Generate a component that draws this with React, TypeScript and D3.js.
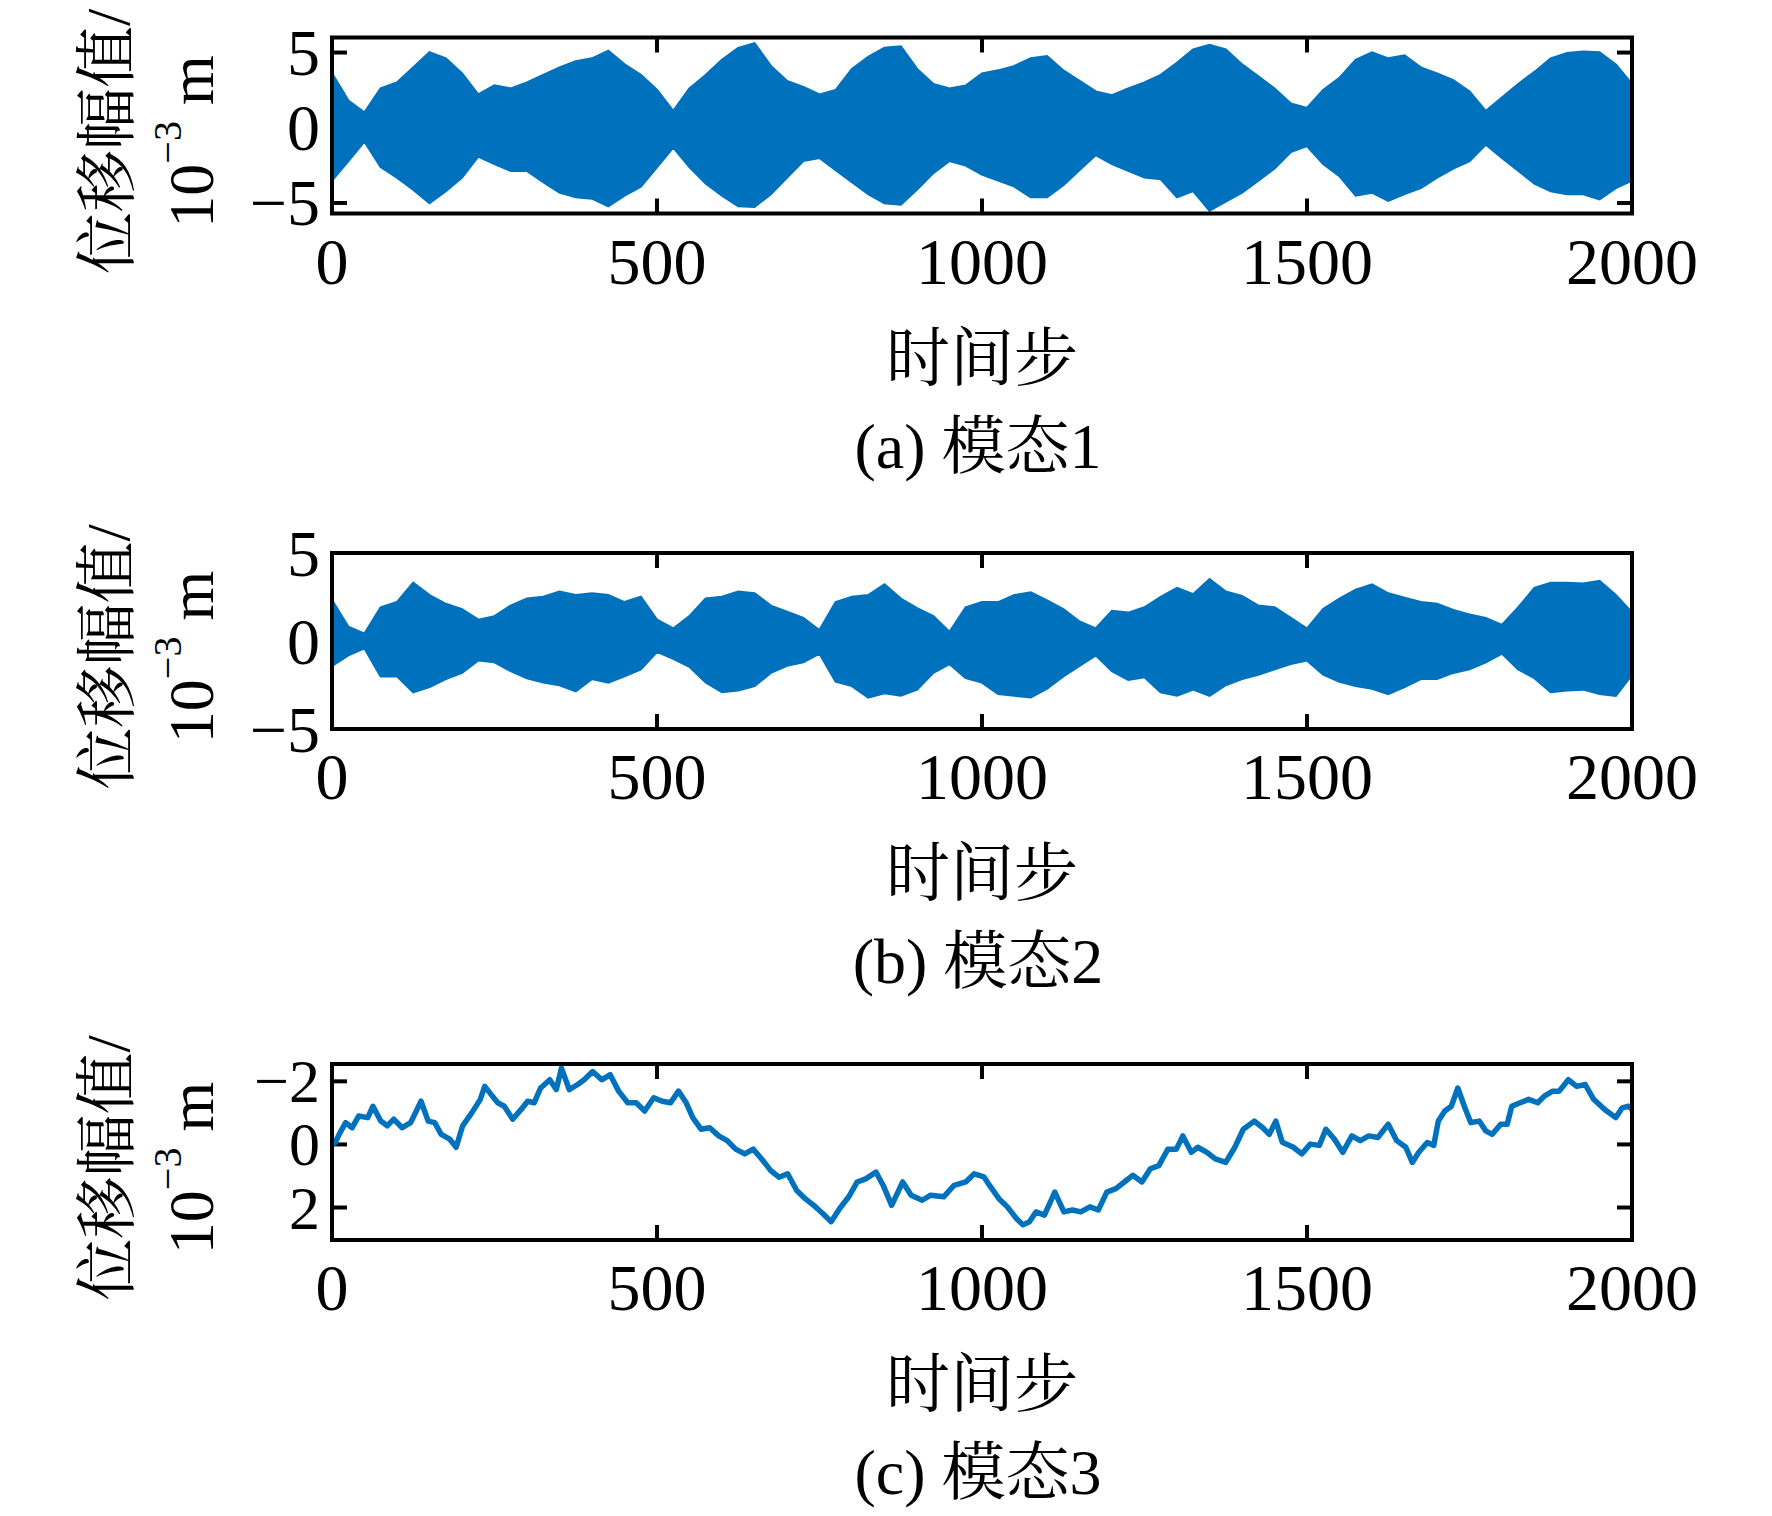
import { useEffect, useRef } from 'react';
import * as d3 from 'd3';

// time steps on the x axis
const xTicks = [0, 500, 1000, 1500, 2000];
const envelopeStep = 25; // envelope values are read every 25 steps

// mode 1: upper / lower envelope of the oscillation (10^-3 m)
const mode1Upper = [
  3.6, 1.8, 1.0, 2.6, 3.0, 4.0, 5.0, 4.6, 3.6, 2.2, 2.8, 2.6, 3.0, 3.5, 4.0, 4.4, 4.6, 5.1, 4.2, 3.5,
  2.5, 1.1, 2.6, 3.5, 4.5, 5.3, 5.6, 4.1, 3.1, 2.7, 2.2, 2.5, 3.9, 4.7, 5.3, 5.4, 3.9, 2.9, 2.6, 2.8,
  3.6, 3.8, 4.1, 4.6, 4.75, 3.8, 3.1, 2.4, 2.15, 2.6, 3.0, 3.5, 4.3, 5.2, 5.5, 5.2, 4.2, 3.4, 2.6, 1.6,
  1.3, 2.5, 3.3, 4.5, 5.0, 4.6, 4.8, 4.0, 3.6, 3.15, 2.4, 1.1, 2.0, 2.9, 3.7, 4.6, 4.95, 5.05, 5.0, 4.2,
  2.9,
];
const mode1Lower = [
  -3.5, -2.2, -0.9, -2.6, -3.3, -4.1, -5.0, -4.2, -3.3, -1.9, -2.4, -2.85, -2.85, -3.6, -4.3, -4.6, -4.7, -5.2, -4.5, -3.9,
  -2.6, -1.3, -2.6, -3.7, -4.5, -5.2, -5.25, -4.4, -3.3, -2.2, -2.0, -2.8, -3.6, -4.4, -5.0, -5.1, -4.1, -3.0, -2.2, -2.5,
  -3.1, -3.5, -3.9, -4.6, -4.6, -3.8, -2.8, -1.8, -2.4, -2.85, -3.3, -3.4, -4.6, -4.2, -5.5, -4.9, -4.3, -3.5, -2.7, -1.6,
  -1.2, -2.4, -3.2, -4.5, -4.3, -4.85, -4.4, -4.0, -3.3, -2.7, -2.2, -1.1, -2.0, -2.85, -3.7, -4.2, -4.4, -4.4, -4.75, -4.0,
  -3.5,
];

// mode 2: upper / lower envelope (10^-3 m)
const mode2Upper = [
  2.3, 0.8, 0.4, 1.9, 2.2, 3.3, 2.6, 2.1, 1.8, 1.2, 1.4, 2.0, 2.4, 2.5, 2.8, 2.6, 2.7, 2.6, 2.2, 2.5,
  1.2, 0.7, 1.4, 2.4, 2.5, 2.8, 2.7, 2.0, 1.65, 1.3, 0.6, 2.2, 2.5, 2.6, 3.2, 2.4, 1.85, 1.4, 0.5, 1.9,
  2.2, 2.2, 2.6, 2.75, 2.3, 1.8, 1.1, 0.7, 1.7, 1.6, 1.9, 2.5, 3.0, 2.65, 3.5, 2.8, 2.55, 2.0, 1.9, 1.3,
  0.7, 1.8, 2.4, 2.9, 3.2, 2.7, 2.45, 2.2, 2.1, 1.75, 1.5, 1.3, 0.9, 1.9, 3.0, 3.3, 3.3, 3.25, 3.4, 2.6,
  1.6,
];
const mode2Lower = [
  -1.4, -0.8, -0.4, -2.0, -2.0, -2.9, -2.6, -2.15, -1.8, -1.1, -1.2, -1.7, -2.1, -2.35, -2.5, -2.85, -2.15, -2.35, -2.0, -1.6,
  -0.6, -1.0, -1.45, -2.35, -2.9, -2.8, -2.55, -1.8, -1.4, -1.2, -0.7, -2.3, -2.55, -3.2, -2.95, -3.1, -2.75, -1.8, -1.3, -2.1,
  -2.35, -3.0, -3.1, -3.2, -2.7, -2.0, -1.4, -0.8, -1.7, -2.2, -2.05, -2.9, -3.1, -2.75, -3.1, -2.5, -2.15, -1.9, -1.6, -1.3,
  -1.1, -1.9, -2.3, -2.55, -2.7, -3.0, -2.6, -2.15, -2.15, -1.8, -1.6, -1.2, -0.7, -1.6, -2.1, -2.9, -2.8, -2.75, -3.0, -3.1,
  -1.9,
];

// mode 3: [time step, displacement 10^-3 m]
const mode3Points: [number, number][] = [
  [0, 0.0], [5, -0.06], [11, -0.32], [21, -0.69], [31, -0.53], [41, -0.9], [55, -0.85], [63, -1.21],
  [75, -0.74], [85, -0.59], [95, -0.8], [108, -0.53], [121, -0.69], [137, -1.37], [148, -0.74], [158, -0.69],
  [168, -0.32], [181, -0.17], [191, 0.09], [201, -0.59], [215, -1.0], [228, -1.42], [235, -1.84], [245, -1.58],
  [255, -1.32], [265, -1.21], [278, -0.8], [291, -1.11], [301, -1.37], [311, -1.32], [321, -1.79], [335, -2.05],
  [345, -1.74], [353, -2.42], [365, -1.74], [378, -1.9], [388, -2.05], [401, -2.31], [415, -2.05], [428, -2.21],
  [441, -1.69], [455, -1.32], [468, -1.32], [481, -1.06], [495, -1.48], [508, -1.37], [521, -1.32], [533, -1.69],
  [545, -1.32], [555, -0.85], [568, -0.48], [581, -0.53], [595, -0.27], [608, -0.12], [621, 0.15], [635, 0.3],
  [648, 0.15], [661, 0.46], [675, 0.83], [688, 1.04], [701, 0.93], [715, 1.46], [728, 1.72], [741, 1.93],
  [755, 2.19], [768, 2.45], [781, 2.03], [795, 1.66], [808, 1.19], [821, 1.09], [837, 0.88], [848, 1.3],
  [861, 1.93], [878, 1.19], [891, 1.61], [908, 1.77], [921, 1.61], [941, 1.66], [957, 1.3], [975, 1.19],
  [988, 0.93], [1003, 1.03], [1013, 1.34], [1026, 1.72], [1039, 1.98], [1053, 2.35], [1063, 2.55], [1073, 2.45],
  [1083, 2.14], [1096, 2.24], [1112, 1.51], [1126, 2.14], [1139, 2.08], [1152, 2.14], [1166, 1.98], [1179, 2.08],
  [1192, 1.51], [1206, 1.4], [1219, 1.19], [1232, 0.98], [1246, 1.19], [1259, 0.77], [1272, 0.67], [1286, 0.15],
  [1299, 0.15], [1309, -0.27], [1322, 0.25], [1332, 0.09], [1346, 0.25], [1359, 0.46], [1375, 0.57], [1389, 0.09],
  [1402, -0.48], [1419, -0.74], [1432, -0.53], [1442, -0.32], [1452, -0.74], [1462, -0.07], [1479, 0.09], [1492, 0.3],
  [1505, -0.01], [1519, 0.03], [1529, -0.48], [1542, -0.17], [1555, 0.25], [1569, -0.27], [1582, -0.12], [1595, -0.27],
  [1609, -0.22], [1625, -0.64], [1638, -0.12], [1652, 0.09], [1662, 0.57], [1672, 0.25], [1685, -0.06], [1695, 0.03],
  [1702, -0.74], [1712, -1.06], [1722, -1.21], [1732, -1.79], [1742, -1.21], [1752, -0.69], [1765, -0.74], [1775, -0.43],
  [1785, -0.32], [1798, -0.64], [1808, -0.64], [1815, -1.21], [1828, -1.32], [1841, -1.43], [1855, -1.32], [1865, -1.53],
  [1878, -1.69], [1888, -1.69], [1902, -2.05], [1915, -1.84], [1928, -1.9], [1941, -1.43], [1958, -1.11], [1975, -0.85],
  [1985, -1.16], [1995, -1.21], [2000, -1.1],
];

const yTicks1 = [-5, 0, 5];
const yTicks2 = [-5, 0, 5];
const yTicks3 = [-2, 0, 2];
const captions = ['(a) 模态1', '(b) 模态2', '(c) 模态3'];
const xLabel = '时间步';
const yLabelTop = '位移幅值/';

const LINE_COLOR = '#0072BD';
const NUM_FONT = '"Liberation Serif", "Times New Roman", serif';
const CJK_FONT = '"Liberation Serif", "Noto Serif CJK SC", "Noto Sans CJK SC", serif';

const fmt = (v: number) => (v < 0 ? `\u2212${Math.abs(v)}` : `${v}`);

const App = () => {
  const svgRef = useRef<SVGSVGElement>(null);

  useEffect(() => {
    if (!svgRef.current) return;
    const svg = d3.select(svgRef.current);
    svg.selectAll('*').remove();

    const left = 332;
    const right = 1632;
    const panelH = 176;
    const tops = [37.5, 553, 1064];

    const x = d3.scaleLinear().domain([0, 2000]).range([left, right]);

    const panels = [
      { domain: [-5.7, 6.0], ticks: yTicks1, reversed: false },
      { domain: [-5, 5], ticks: yTicks2, reversed: false },
      { domain: [-2.55, 3.03], ticks: yTicks3, reversed: true },
    ];

    panels.forEach((p, i) => {
      const top = tops[i];
      const bottom = top + panelH;
      const y = d3.scaleLinear()
        .domain(p.domain)
        .range(p.reversed ? [top, bottom] : [bottom, top]);

      const g = svg.append('g');

      const clipId = `clip-${i}`;
      g.append('clipPath').attr('id', clipId)
        .append('rect')
        .attr('x', left).attr('y', top)
        .attr('width', right - left).attr('height', panelH);

      // tick marks (inward, on all four sides)
      const tickLen = 15;
      xTicks.forEach(t => {
        g.append('line')
          .attr('x1', x(t)).attr('x2', x(t))
          .attr('y1', bottom).attr('y2', bottom - tickLen)
          .attr('stroke', '#000').attr('stroke-width', 4);
        g.append('line')
          .attr('x1', x(t)).attr('x2', x(t))
          .attr('y1', top).attr('y2', top + tickLen)
          .attr('stroke', '#000').attr('stroke-width', 4);
      });
      p.ticks.forEach(t => {
        g.append('line')
          .attr('x1', left).attr('x2', left + tickLen)
          .attr('y1', y(t)).attr('y2', y(t))
          .attr('stroke', '#000').attr('stroke-width', 4);
        g.append('line')
          .attr('x1', right).attr('x2', right - tickLen)
          .attr('y1', y(t)).attr('y2', y(t))
          .attr('stroke', '#000').attr('stroke-width', 4);
      });

      // data
      const dataG = g.append('g').attr('clip-path', `url(#${clipId})`);
      if (i < 2) {
        const upper = i === 0 ? mode1Upper : mode2Upper;
        const lower = i === 0 ? mode1Lower : mode2Lower;
        const area = d3.area<number>()
          .x((_, k) => x(k * envelopeStep))
          .y0((_, k) => y(lower[k]))
          .y1(d => y(d));
        dataG.append('path')
          .datum(upper)
          .attr('d', area)
          .attr('fill', LINE_COLOR)
          .attr('stroke', LINE_COLOR)
          .attr('stroke-width', 2.5)
          .attr('stroke-linejoin', 'miter');
      } else {
        const line = d3.line<[number, number]>()
          .x(d => x(d[0]))
          .y(d => y(d[1]));
        dataG.append('path')
          .datum(mode3Points)
          .attr('d', line)
          .attr('fill', 'none')
          .attr('stroke', LINE_COLOR)
          .attr('stroke-width', 5.5)
          .attr('stroke-linejoin', 'round');
      }

      // frame
      g.append('rect')
        .attr('x', left).attr('y', top)
        .attr('width', right - left).attr('height', panelH)
        .attr('fill', 'none')
        .attr('stroke', '#000')
        .attr('stroke-width', 4);

      // x tick labels
      xTicks.forEach(t => {
        g.append('text')
          .attr('x', x(t)).attr('y', bottom + 70)
          .attr('text-anchor', 'middle')
          .attr('font-family', NUM_FONT)
          .attr('font-size', 66)
          .text(t);
      });

      // y tick labels
      p.ticks.forEach(t => {
        g.append('text')
          .attr('x', left - 12).attr('y', y(t))
          .attr('text-anchor', 'end')
          .attr('dominant-baseline', 'central')
          .attr('font-family', NUM_FONT)
          .attr('font-size', i === 2 ? 62 : 66)
          .text(fmt(t));
      });

      // x label and caption
      g.append('text')
        .attr('x', (left + right) / 2).attr('y', bottom + 166)
        .attr('text-anchor', 'middle')
        .attr('font-family', CJK_FONT)
        .attr('font-size', 64)
        .text(xLabel);
      g.append('text')
        .attr('x', (left + right) / 2 - 4).attr('y', bottom + 254)
        .attr('text-anchor', 'middle')
        .attr('font-family', CJK_FONT)
        .attr('font-size', 64)
        .text(captions[i]);

      // y label (two rotated lines)
      const cy = (top + bottom) / 2 + 16;
      g.append('text')
        .attr('transform', `translate(108, ${cy}) rotate(-90)`)
        .attr('text-anchor', 'middle')
        .attr('dominant-baseline', 'central')
        .attr('font-family', CJK_FONT)
        .attr('font-size', 62)
        .text(yLabelTop);
      const unit = g.append('text')
        .attr('transform', `translate(191, ${cy}) rotate(-90)`)
        .attr('text-anchor', 'middle')
        .attr('dominant-baseline', 'central')
        .attr('font-family', NUM_FONT)
        .attr('font-size', 64);
      unit.append('tspan').text('10');
      unit.append('tspan').attr('font-size', 40).attr('dy', -24).text('\u22123');
      unit.append('tspan').attr('dy', 24).text('\u00a0m');
    });
  }, []);

  return (
    <svg
      ref={svgRef}
      width={1772}
      height={1516}
      style={{ position: 'absolute', left: 0, top: 0, background: '#fff' }}
    />
  );
};

export default App;
